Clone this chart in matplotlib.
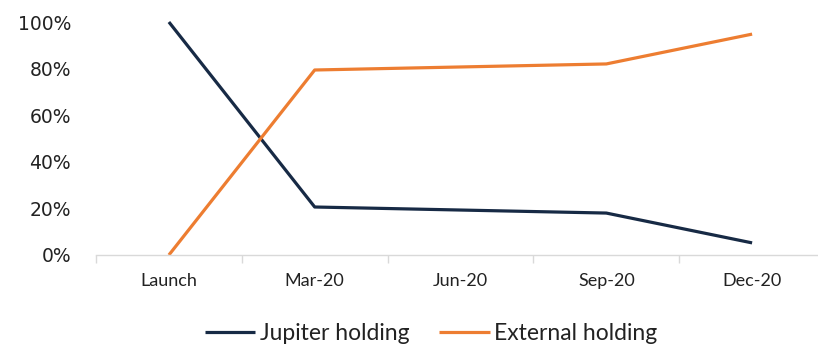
import matplotlib
matplotlib.use("Agg")
import matplotlib.pyplot as plt
from matplotlib.ticker import FixedLocator, PercentFormatter

categories = ["Launch", "Mar-20", "Jun-20", "Sep-20", "Dec-20"]
jupiter = [100, 20.6, 19.3, 18.0, 5.2]
external = [0, 79.4, 80.7, 82.0, 94.8]
yticks = [0, 20, 40, 60, 80, 100]

navy = "#172a45"
orange = "#ed7d31"

fig = plt.figure(figsize=(8.18, 3.49), dpi=100)
ax = fig.add_axes([96/818, 1-255/349, (825-96)/818, (255-22)/349])

x = list(range(len(categories)))
ax.plot(x, jupiter, color=navy, lw=2.3, label="Jupiter holding", clip_on=False, solid_capstyle="butt")
ax.plot(x, external, color=orange, lw=2.3, label="External holding", clip_on=False, solid_capstyle="butt")

ax.set_xlim(-0.5, len(categories) - 0.5)
ax.set_ylim(0, 100)
ax.set_yticks(yticks)
ax.yaxis.set_major_formatter(PercentFormatter(decimals=0))
ax.set_xticks(x)
ax.set_xticklabels(categories, fontfamily="Lato", fontsize=13)
ax.xaxis.set_minor_locator(FixedLocator([i - 0.5 for i in range(len(categories) + 1)]))
ax.tick_params(axis="x", which="major", length=0, pad=13, colors="#222222")
ax.tick_params(axis="x", which="minor", length=6, color="#d9d9d9", width=1)
ax.tick_params(axis="y", length=0, pad=18, labelsize=13.5, colors="#222222")
for s in ["top", "right", "left"]:
    ax.spines[s].set_visible(False)
ax.spines["bottom"].set_color("#d9d9d9")
ax.spines["bottom"].set_linewidth(1)

leg = fig.legend(loc="center", bbox_to_anchor=(0.527, 0.045), ncol=2, frameon=False,
                 prop={"family": "Lato", "size": 16.5}, handlelength=2.2, handletextpad=0.2,
                 columnspacing=1.3)
for t in leg.get_texts():
    t.set_color("#222222")

fig.savefig("out.png", dpi=100)
